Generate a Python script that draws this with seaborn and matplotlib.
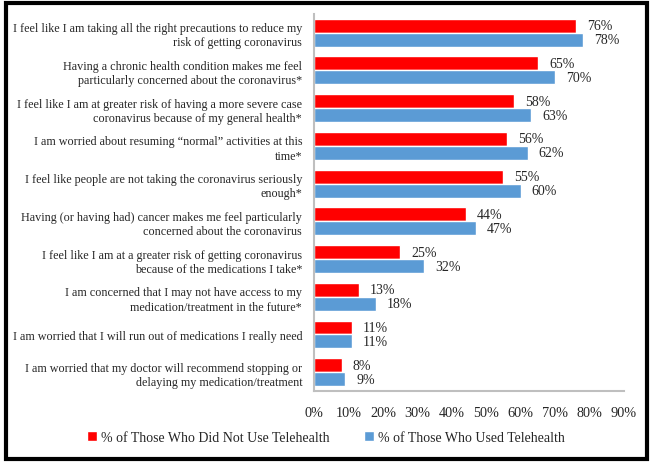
import pandas as pd
import seaborn as sns
import matplotlib.pyplot as plt
from matplotlib.patches import Rectangle

# data
statements = [
    "I feel like I am taking all the right precautions to reduce my\nrisk of getting coronavirus",
    "Having a chronic health condition makes me feel\nparticularly concerned about the coronavirus*",
    "I feel like I am at greater risk of having a more severe case\ncoronavirus because of my general health*",
    "I am worried about resuming \u201cnormal\u201d activities at this\ntime*",
    "I feel like people are not taking the coronavirus seriously\nenough*",
    "Having (or having had) cancer makes me feel particularly\nconcerned about the coronavirus",
    "I feel like I am at a greater risk of getting coronavirus\nbecause of the medications I take*",
    "I am concerned that I may not have access to my\nmedication/treatment in the future*",
    "I am worried that I will run out of medications I really need",
    "I am worried that my doctor will recommend stopping or\ndelaying my medication/treatment",
]
no_telehealth = [76, 65, 58, 56, 55, 44, 25, 13, 11, 8]
used_telehealth = [78, 70, 63, 62, 60, 47, 32, 18, 11, 9]
groups = ["% of Those Who Did Not Use Telehealth", "% of Those Who Used Telehealth"]
xticks = [0, 10, 20, 30, 40, 50, 60, 70, 80, 90]

df = pd.DataFrame({
    "statement": statements * 2,
    "pct": no_telehealth + used_telehealth,
    "group": [groups[0]] * len(statements) + [groups[1]] * len(statements),
})

sns.set_style("white")
plt.rcParams['font.family'] = ['Liberation Serif', 'DejaVu Serif']

fig = plt.figure(figsize=(6.52, 4.64), dpi=100)
ax = fig.add_axes([0.4816, 0.155, 0.4755, 0.813])

sns.barplot(data=df, y="statement", x="pct", hue="group", orient="h",
            palette={groups[0]: "#FF0000", groups[1]: "#5B9BD5"},
            hue_order=groups, order=statements, width=0.74, gap=0,
            saturation=1, ax=ax)

for c in ax.containers:
    ax.bar_label(c, fmt="%d%%", padding=8, fontsize=10)

ax.set_xlim(0, 90)
ax.set_ylim(9.5, -0.5)
ax.set_xticks(xticks)
ax.set_xticklabels([f"{t}%" for t in xticks], fontsize=10.3)
ax.tick_params(axis="y", labelsize=8.75, length=0, pad=8.5)
ax.tick_params(axis="x", length=0, pad=11)
for lab in ax.get_yticklabels():
    lab.set_horizontalalignment("right")
    lab.set_multialignment("right")
    lab.set_linespacing(1.25)
ax.set_xlabel("")
ax.set_ylabel("")
for s in ["top", "right"]:
    ax.spines[s].set_visible(False)
for s in ["left", "bottom"]:
    ax.spines[s].set_color("#BFBFBF")
    ax.spines[s].set_linewidth(1.5)

ax.get_legend().remove()
h, l = ax.get_legend_handles_labels()
fig.legend(h, l, loc="lower center", bbox_to_anchor=(0.5, 0.015), ncol=2,
           frameon=False, fontsize=10, handlelength=0.7, handleheight=0.7,
           handletextpad=0.3, columnspacing=2.5)

fig.patches.append(Rectangle((0.009, 0.008), 0.983, 0.983, transform=fig.transFigure,
                             fill=False, edgecolor="black", linewidth=3))

plt.savefig("out.png", dpi=100)
